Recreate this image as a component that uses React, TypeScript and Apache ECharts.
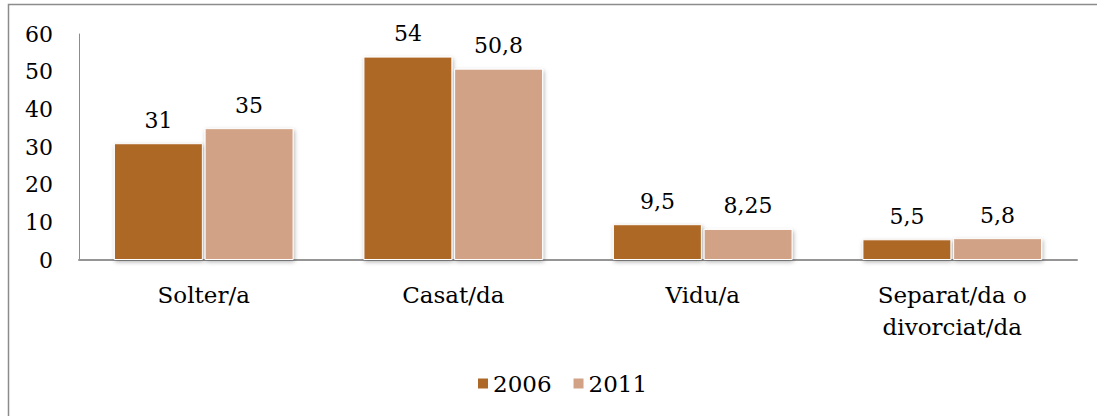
import React, { useEffect, useRef } from "react";
import * as echarts from "echarts";

const categories = ["Solter/a", "Casat/da", "Vidu/a", "Separat/da o\ndivorciat/da"];
const seriesNames = ["2006", "2011"];
const values2006 = [31, 54, 9.5, 5.5];
const values2011 = [35, 50.8, 8.25, 5.8];
const colors = ["#AD6727", "#D1A286"];

const FONT = "DejaVu Serif";

export default function App() {
  const ref = useRef<HTMLDivElement>(null);
  useEffect(() => {
    if (!ref.current) return;
    const chart = echarts.init(ref.current, undefined, { renderer: "svg" });
    const mkSeries = (name: string, data: number[], color: string) => ({
      name,
      type: "bar",
      data,
      barGap: "2%",
      barCategoryGap: "28%",
      itemStyle: {
        color,
        borderColor: "#ffffff",
        borderWidth: 1,
        shadowBlur: 4,
        shadowColor: "rgba(0,0,0,0.3)",
        shadowOffsetX: 1,
        shadowOffsetY: 2,
      },
      label: {
        show: true,
        position: "top",
        distance: 12,
        fontFamily: FONT,
        fontSize: 22,
        color: "#000",
        formatter: (p: any) => String(p.value).replace(".", ","),
      },
    });
    chart.setOption({
      animation: false,
      backgroundColor: "#ffffff",
      textStyle: { fontFamily: FONT },
      grid: { left: 79, right: 20, top: 34, bottom: 156, containLabel: false },
      graphic: [
        {
          type: "rect",
          shape: { x: 8.5, y: 4.5, width: 1200, height: 500 },
          style: { fill: "none", stroke: "#8c8c8c", lineWidth: 1.5 },
          silent: true,
          z: -10,
        },
      ],
      legend: {
        data: seriesNames,
        left: 471,
        top: 367,
        icon: "rect",
        itemWidth: 12,
        itemHeight: 12,
        itemGap: 20,
        textStyle: { fontFamily: FONT, fontSize: 23, color: "#000", padding: [0, 0, 0, -1] },
      },
      xAxis: {
        type: "category",
        data: categories,
        axisLine: { show: true, lineStyle: { color: "#959595", width: 2 } },
        axisTick: { show: false },
        axisLabel: {
          fontFamily: FONT,
          fontSize: 23,
          color: "#000",
          margin: 19,
          lineHeight: 32,
          interval: 0,
        },
      },
      yAxis: {
        type: "value",
        min: 0,
        max: 60,
        interval: 10,
        axisLine: { show: true, lineStyle: { color: "#8c8c8c", width: 1 } },
        axisTick: { show: false },
        splitLine: { show: false },
        axisLabel: { fontFamily: FONT, fontSize: 22, color: "#000", margin: 26 },
      },
      series: [
        mkSeries(seriesNames[0], values2006, colors[0]),
        mkSeries(seriesNames[1], values2011, colors[1]),
      ],
    });
    return () => chart.dispose();
  }, []);
  return (
    <div
      ref={ref}
      style={{ position: "absolute", left: 0, top: 0, width: 1097, height: 416 }}
    />
  );
}
